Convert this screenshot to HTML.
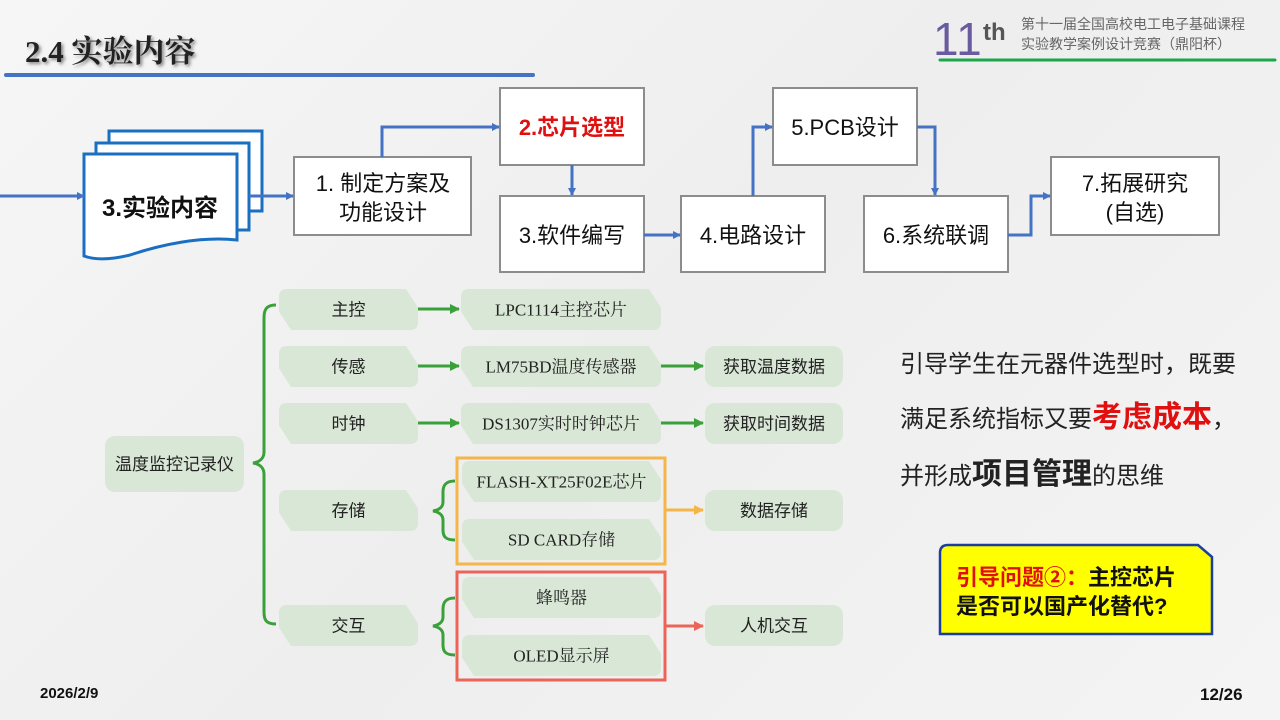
<!DOCTYPE html>
<html><head><meta charset="utf-8"><style>
body{margin:0;width:1280px;height:720px;overflow:hidden;background:linear-gradient(135deg,#f6f6f6 0%,#eeeeee 50%,#f4f4f4 100%);font-family:"Liberation Sans","Noto Sans CJK SC",sans-serif;}
svg{position:absolute;left:0;top:0}
</style></head><body>
<svg id="s" width="1280" height="720" viewBox="0 0 1280 720" font-family="Liberation Sans, Noto Sans CJK SC, sans-serif">
<defs>
<marker id="ab" markerWidth="8" markerHeight="8" refX="7" refY="4" orient="auto" markerUnits="userSpaceOnUse"><path d="M0,0 L8,4 L0,8 z" fill="#4472c4"/></marker>
<marker id="ag" markerWidth="10" markerHeight="10" refX="9" refY="5" orient="auto" markerUnits="userSpaceOnUse"><path d="M0,0 L10,5 L0,10 z" fill="#3aa03a"/></marker>
<marker id="ao" markerWidth="10" markerHeight="10" refX="9" refY="5" orient="auto" markerUnits="userSpaceOnUse"><path d="M0,0 L10,5 L0,10 z" fill="#f5b54a"/></marker>
<marker id="ar" markerWidth="10" markerHeight="10" refX="9" refY="5" orient="auto" markerUnits="userSpaceOnUse"><path d="M0,0 L10,5 L0,10 z" fill="#ec6358"/></marker>
<filter id="sh"><feDropShadow dx="2" dy="2" stdDeviation="1.5" flood-color="#888"/></filter>
</defs>
<text x="25" y="62" font-family="Liberation Serif, Noto Serif CJK SC, serif" font-weight="bold" font-size="31" fill="#222" filter="url(#sh)">2.4 实验内容</text>
<line x1="6" y1="75" x2="533" y2="75" stroke="#4472c4" stroke-width="4" stroke-linecap="round"/>
<text x="933" y="55" font-size="46" fill="#6a5aa0" letter-spacing="1">11</text>
<text x="983" y="40" font-size="24" fill="#555" font-weight="bold">th</text>
<text x="1021" y="29" font-size="14" fill="#666">第十一届全国高校电工电子基础课程</text>
<text x="1021" y="49" font-size="14" fill="#666">实验教学案例设计竞赛（鼎阳杯）</text>
<line x1="940" y1="60" x2="1275" y2="60" stroke="#1aa64a" stroke-width="3" stroke-linecap="round"/>
<g fill="#fff" stroke="#1a6fc0" stroke-width="3">
<rect x="109" y="131" width="153" height="80"/>
<rect x="96" y="143" width="153" height="87"/>
<path d="M84,154 L237,154 L237,240 C200,236 160,245 130,255 C110,260 95,260 84,256 Z"/>
</g>
<text x="160" y="216" font-size="24" font-weight="bold" text-anchor="middle" fill="#111">3.实验内容</text>
<g fill="#fff" stroke="#8c8c8c" stroke-width="2">
<rect x="294" y="157" width="177" height="78"/>
<rect x="500" y="88" width="144" height="77"/>
<rect x="500" y="196" width="144" height="76"/>
<rect x="681" y="196" width="144" height="76"/>
<rect x="773" y="88" width="144" height="77"/>
<rect x="864" y="196" width="144" height="76"/>
<rect x="1051" y="157" width="168" height="78"/>
</g>
<g font-size="22" fill="#111" text-anchor="middle">
<text x="383" y="191">1. 制定方案及</text><text x="383" y="220">功能设计</text>
<text x="572" y="135" fill="#e01010" font-weight="bold">2.芯片选型</text>
<text x="572" y="243">3.软件编写</text>
<text x="753" y="243">4.电路设计</text>
<text x="845" y="135">5.PCB设计</text>
<text x="936" y="243">6.系统联调</text>
<text x="1135" y="191">7.拓展研究</text><text x="1135" y="220">(自选)</text>
</g>
<g stroke="#4472c4" stroke-width="3" fill="none">
<path d="M0,196 L84,196" marker-end="url(#ab)"/>
<path d="M249,196 L293,196" marker-end="url(#ab)"/>
<path d="M382,157 L382,127 L499,127" marker-end="url(#ab)"/>
<path d="M572,165 L572,195" marker-end="url(#ab)"/>
<path d="M644,235 L680,235" marker-end="url(#ab)"/>
<path d="M753,196 L753,127 L772,127" marker-end="url(#ab)"/>
<path d="M917,127 L935,127 L935,195" marker-end="url(#ab)"/>
<path d="M1008,235 L1031,235 L1031,196 L1050,196" marker-end="url(#ab)"/>
</g>
<g id="nodes"></g>
<path d="M276,305 C266,305 264,310 264,318 L264,452 C264,458 260,462 253,463 C260,464 264,468 264,474 L264,612 C264,620 266,624 276,624" fill="none" stroke="#3aa03a" stroke-width="3"/>
<path d="M455,481 C445,481 443,486 443,492 L443,502 C443,507 439,510 433,511 C439,512 443,515 443,520 L443,530 C443,536 445,540 455,540" fill="none" stroke="#3aa03a" stroke-width="3"/>
<path d="M455,598 C445,598 443,603 443,609 L443,617 C443,622 439,625 433,626 C439,627 443,630 443,635 L443,645 C443,651 445,655 455,655" fill="none" stroke="#3aa03a" stroke-width="3"/>
<rect x="457" y="458" width="208" height="106" fill="none" stroke="#f5b54a" stroke-width="3"/>
<rect x="457" y="572" width="208" height="108" fill="none" stroke="#ec6358" stroke-width="3"/>
<g stroke-width="3" fill="none">
<path d="M418,309 L459,309" stroke="#3aa03a" marker-end="url(#ag)"/>
<path d="M418,366 L459,366" stroke="#3aa03a" marker-end="url(#ag)"/>
<path d="M418,423 L459,423" stroke="#3aa03a" marker-end="url(#ag)"/>
<path d="M661,366 L703,366" stroke="#3aa03a" marker-end="url(#ag)"/>
<path d="M661,423 L703,423" stroke="#3aa03a" marker-end="url(#ag)"/>
<path d="M665,510 L703,510" stroke="#f5b54a" marker-end="url(#ao)"/>
<path d="M665,626 L703,626" stroke="#ec6358" marker-end="url(#ar)"/>
</g>
<g font-size="24" fill="#222">
<text x="900" y="372">引导学生在元器件选型时，既要</text>
<text x="900" y="427">满足系统指标又要<tspan fill="#e01010" font-weight="bold" font-size="30">考虑成本</tspan>，</text>
<text x="900" y="484">并形成<tspan font-weight="bold" font-size="30">项目管理</tspan>的思维</text>
</g>
<path d="M948,545 L1198,545 L1212,557 L1212,634 L940,634 L940,553 Q940,545 948,545 Z" fill="#ffff00" stroke="#1a3fa0" stroke-width="2.5"/>
<text x="956" y="585" font-size="22" font-weight="bold" fill="#111"><tspan fill="#e01010">引导问题②：</tspan>主控芯片</text>
<text x="956" y="614" font-size="22" font-weight="bold" fill="#111">是否可以国产化替代?</text>
<text x="40" y="698" font-size="15" font-weight="bold" fill="#111">2026/2/9</text>
<text x="1200" y="700" font-size="17" font-weight="bold" fill="#111">12/26</text>
</svg>
<script>
var g=document.getElementById('nodes'),ns='http://www.w3.org/2000/svg';
function node(x,y,w,h,t,serif){
 var c=12,r=8;
 var d='M'+(x+r)+','+y+' L'+(x+w-c)+','+y+' L'+(x+w)+','+(y+h*0.45)+' L'+(x+w)+','+(y+h-r)+' Q'+(x+w)+','+(y+h)+' '+(x+w-r)+','+(y+h)+' L'+(x+c)+','+(y+h)+' L'+x+','+(y+h*0.55)+' L'+x+','+(y+r)+' Q'+x+','+y+' '+(x+r)+','+y+' Z';
 var p=document.createElementNS(ns,'path');p.setAttribute('d',d);p.setAttribute('fill','#d9e7d6');g.appendChild(p);
 var tx=document.createElementNS(ns,'text');tx.setAttribute('x',x+w/2);tx.setAttribute('y',y+h/2+6);tx.setAttribute('text-anchor','middle');tx.setAttribute('font-size','17');tx.setAttribute('fill','#222');
 tx.setAttribute('font-family',serif?'Liberation Serif, Noto Serif CJK SC, serif':'Liberation Sans, Noto Sans CJK SC, sans-serif');tx.textContent=t;g.appendChild(tx);
}
function rnode(x,y,w,h,t){var p=document.createElementNS(ns,'rect');p.setAttribute('x',x);p.setAttribute('y',y);p.setAttribute('width',w);p.setAttribute('height',h);p.setAttribute('rx',10);p.setAttribute('fill','#d9e7d6');g.appendChild(p);
 var tx=document.createElementNS(ns,'text');tx.setAttribute('x',x+w/2);tx.setAttribute('y',y+h/2+6);tx.setAttribute('text-anchor','middle');tx.setAttribute('font-size','17');tx.setAttribute('fill','#222');tx.textContent=t;g.appendChild(tx);}
rnode(105,436,139,56,'温度监控记录仪');
node(279,289,139,41,'主控');node(279,346,139,41,'传感');node(279,403,139,41,'时钟');node(279,490,139,41,'存储');node(279,605,139,41,'交互');
node(461,289,200,41,'LPC1114主控芯片',1);node(461,346,200,41,'LM75BD温度传感器',1);node(461,403,200,41,'DS1307实时时钟芯片',1);
node(462,461,199,41,'FLASH-XT25F02E芯片',1);node(462,519,199,41,'SD CARD存储',1);
node(462,577,199,41,'蜂鸣器',1);node(462,635,199,41,'OLED显示屏',1);
rnode(705,346,138,41,'获取温度数据');rnode(705,403,138,41,'获取时间数据');rnode(705,490,138,41,'数据存储');rnode(705,605,138,41,'人机交互');
</script>
</body></html>
